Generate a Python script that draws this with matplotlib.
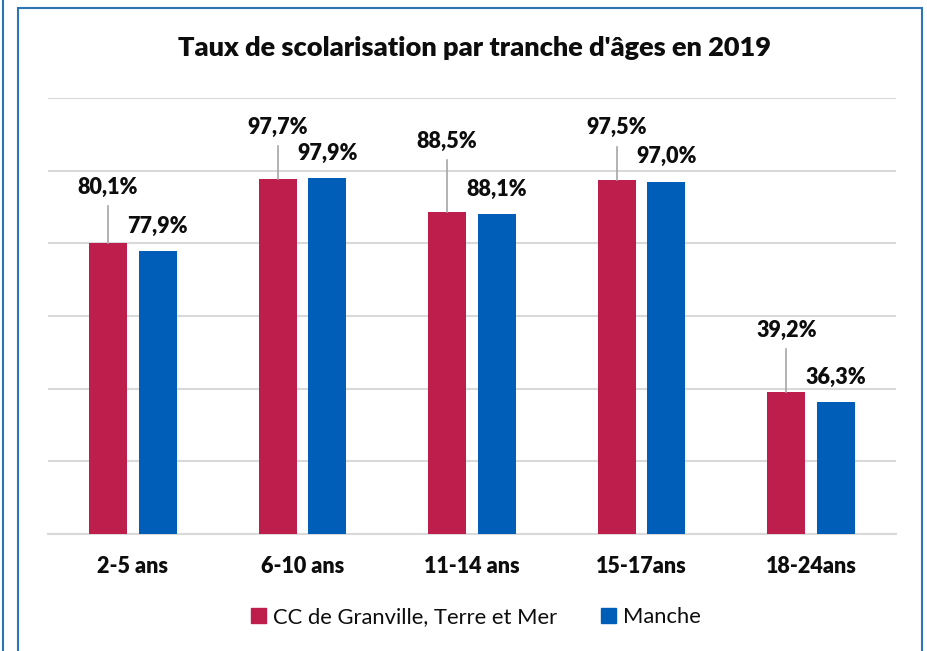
import matplotlib
matplotlib.use("Agg")
import matplotlib.pyplot as plt
from matplotlib.patches import Rectangle
from matplotlib.lines import Line2D
import numpy as np

categories = ["2-5 ans", "6-10 ans", "11-14 ans", "15-17ans", "18-24ans"]
series_names = ["CC de Granville, Terre et Mer", "Manche"]
granville = [80.1, 97.7, 88.5, 97.5, 39.2]
manche = [77.9, 97.9, 88.1, 97.0, 36.3]
title = "Taux de scolarisation par tranche d'âges en 2019"

# label offsets in data units (style)
red_label_offset = [15.3, 14.3, 19.5, 14.3, 16.8]
blue_label_offset = 6.8

RED = "#BE1E4B"
BLUE = "#005EB8"
FRAME = "#2E75B6"
TXT = "#0d0d0d"
W8 = 'heavy'

plt.rcParams['font.family'] = ['Lato', 'DejaVu Sans']

W, H = 927, 651
fig = plt.figure(figsize=(W / 100, H / 100), dpi=100)

ax = fig.add_axes([48 / W, 1 - 534 / H, (896 - 48) / W, (534 - 98) / H])
x = np.arange(len(categories))
bw = 0.224
off = 0.146
ax.bar(x - off, granville, bw, color=RED, zorder=3, label=series_names[0])
ax.bar(x + off, manche, bw, color=BLUE, zorder=3, label=series_names[1])

ax.set_xlim(-0.5, len(categories) - 0.5)
ax.set_ylim(0, 120)
ax.set_yticks(np.arange(0, 121, 20))
ax.yaxis.grid(True, color="#D9D9D9", linewidth=1.5, zorder=0)
ax.tick_params(axis='y', left=False, labelleft=False)
ax.tick_params(axis='x', length=0, pad=16)
ax.set_xticks(x)
ax.set_xticklabels(categories, fontsize=15.5, fontweight=W8, color=TXT)
for s in ['top', 'right', 'left']:
    ax.spines[s].set_visible(False)
ax.spines['bottom'].set_color("#D9D9D9")
ax.spines['bottom'].set_linewidth(1.5)
ax.set_axisbelow(True)

for i, v in enumerate(granville):
    ly = v + red_label_offset[i]
    ax.plot([i - off, i - off], [v, ly - 5.2], color="#A6A6A6", lw=1.2, zorder=4)
    ax.text(i - off, ly, f"{v:.1f}%".replace('.', ','), ha='center', va='center',
            fontsize=15.5, fontweight=W8, color=TXT, zorder=5)
for i, v in enumerate(manche):
    ax.text(i + off, v + blue_label_offset, f"{v:.1f}%".replace('.', ','), ha='center', va='center',
            fontsize=15.5, fontweight=W8, color=TXT, zorder=5)

fig.text(474 / W, 1 - 48 / H, title, ha='center', va='center', fontsize=19.5,
         fontweight=W8, color=TXT)

handles = [Rectangle((0, 0), 1, 1, color=RED), Rectangle((0, 0), 1, 1, color=BLUE)]
fig.legend(handles, series_names, loc='center', bbox_to_anchor=(476 / W, 1 - 617 / H),
           ncol=2, frameon=False, fontsize=15.8, handlelength=0.7, handleheight=0.7,
           handletextpad=0.3, columnspacing=2.0, labelcolor=TXT)

# frame
fig.add_artist(Rectangle((18 / W, -0.05), (922 - 18) / W, (1 - 8 / H) + 0.05,
                         transform=fig.transFigure, fill=False, edgecolor=FRAME, lw=1.5))
fig.add_artist(Line2D([2.5 / W, 2.5 / W], [0, 1], transform=fig.transFigure, color=FRAME, lw=1.5))

fig.savefig("out.png", dpi=100)
